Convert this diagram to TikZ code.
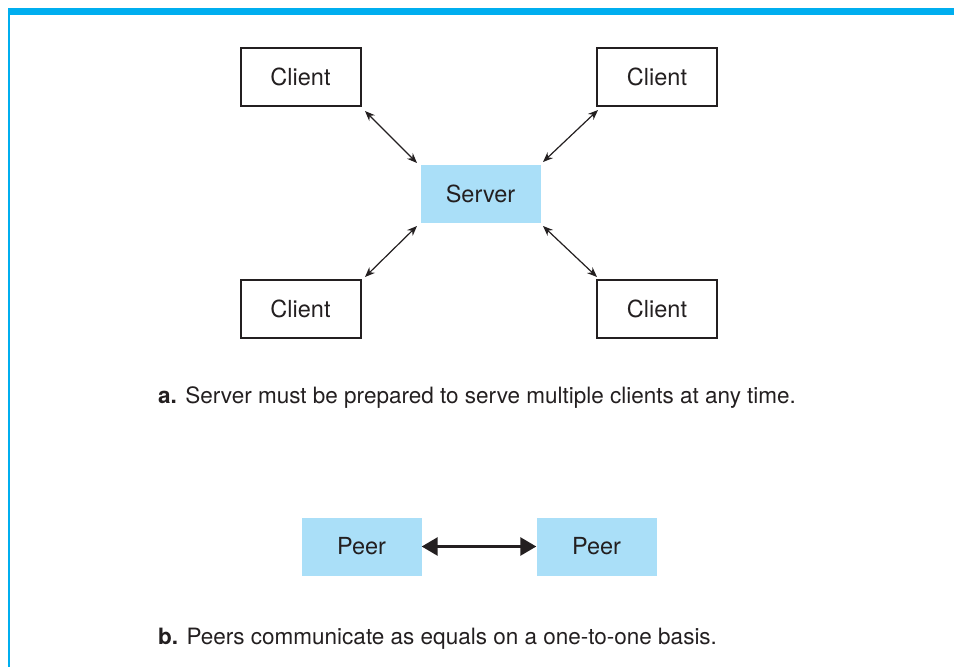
\documentclass[tikz,border=0pt]{standalone}
\usepackage{fontspec}
\setmainfont{TeX Gyre Heros}
\usetikzlibrary{arrows.meta}
\definecolor{barblue}{RGB}{0,174,239}
\definecolor{boxblue}{RGB}{170,223,248}
\definecolor{ink}{RGB}{35,31,32}
\tikzset{
  client/.style={draw=ink, line width=2pt, fill=white, minimum width=120pt, minimum height=58pt, inner sep=0pt, text=ink, font=\fontsize{23.5}{26}\selectfont},
  bluebox/.style={fill=boxblue, minimum width=120pt, minimum height=58pt, inner sep=0pt, text=ink, font=\fontsize{23.5}{26}\selectfont},
  thinarrow/.style={draw=ink, line width=1.2pt, {Stealth[length=10pt,width=8pt]}-{Stealth[length=10pt,width=8pt]}},
  thickarrow/.style={draw=ink, line width=2.8pt, {Triangle[length=16pt,width=18pt]}-{Triangle[length=16pt,width=18pt]}},
  caption/.style={anchor=base west, inner sep=0pt, text=ink, font=\fontsize{22.5}{26}\selectfont}
}
\begin{document}
\begin{tikzpicture}[x=1pt,y=-1pt]
\useasboundingbox (0,0) rectangle (954,667);
% frame
\fill[barblue] (8,8) rectangle (954,14.5);
\fill[barblue] (8,8) rectangle (10,667);
% part a
\node[client] (c1) at (300.5,76.5) {Client};
\node[client] (c2) at (657,76.5) {Client};
\node[client] (c3) at (300.5,308.5) {Client};
\node[client] (c4) at (657,308.5) {Client};
\node[bluebox] (s) at (480.5,194) {Server};
\coordinate (c1e) at (365,111);
\coordinate (s1e) at (417,163);
\coordinate (c2e) at (598,110);
\coordinate (s2e) at (543,162);
\coordinate (c3e) at (365,277);
\coordinate (s3e) at (417,226);
\coordinate (c4e) at (597,277);
\coordinate (s4e) at (543,226);
\draw[thinarrow] (c1e) -- (s1e);
\draw[thinarrow] (c2e) -- (s2e);
\draw[thinarrow] (c3e) -- (s3e);
\draw[thinarrow] (c4e) -- (s4e);
\node[caption] (capa) at (158,403) {\textbf{a.} Server must be prepared to serve multiple clients at any time.};
% part b
\node[bluebox] (p1) at (361.5,546.5) {Peer};
\node[bluebox] (p2) at (596.5,546.5) {Peer};
\draw[thickarrow] (p1.east) -- (p2.west);
\node[caption] (capb) at (158,644) {\textbf{b.} Peers communicate as equals on a one-to-one basis.};
\end{tikzpicture}
\end{document}
